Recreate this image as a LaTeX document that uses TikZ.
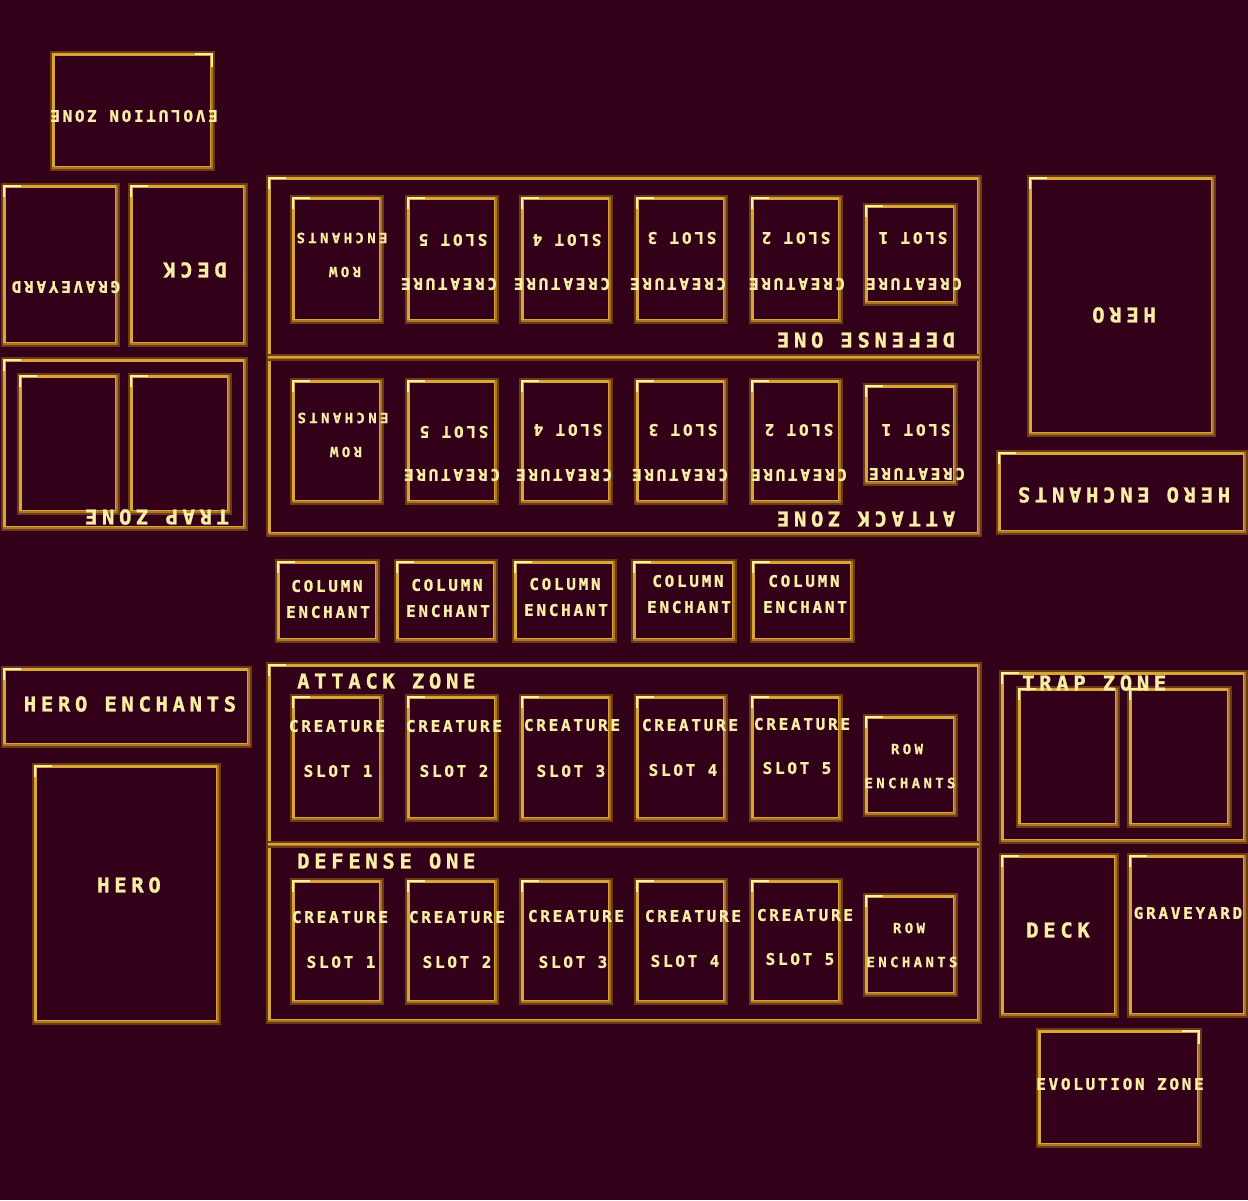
\documentclass[tikz,border=0pt]{standalone}
\usepackage{fontspec}
\newfontfamily\fsmall[LetterSpace=17,FakeBold=1.2]{DejaVu Sans Mono}
\newfontfamily\fbig[LetterSpace=23,FakeBold=1.5]{DejaVu Sans Mono}
\newfontfamily\frow[LetterSpace=24,FakeBold=1]{DejaVu Sans Mono}
\definecolor{cbg}{HTML}{33001A}
\definecolor{cbrown}{HTML}{6B3A17}
\definecolor{cgoldl}{HTML}{D9A535}
\definecolor{cgoldd}{HTML}{AD7222}
\definecolor{chi}{HTML}{FCEFA6}
\definecolor{ctext}{HTML}{F7EDA5}
\newcommand\frm[4]{%
 \fill[cbrown] (#1,#2) rectangle (#3,#4);
 \fill[cgoldd] (#1+2,#2+2) rectangle (#3-2,#4-2);
 \fill[cgoldl] (#1+2,#2+2) rectangle (#3-4,#4-4);
 \fill[cbg] (#1+5,#2+5) rectangle (#3-5,#4-5);
 \fill[chi] (#1+2,#2+2) rectangle (#1+20,#2+4);
 \fill[chi] (#1+2,#2+2) rectangle (#1+4,#2+14);
}
\newcommand\frmr[4]{%
 \fill[cbrown] (#1,#2) rectangle (#3,#4);
 \fill[cgoldd] (#1+2,#2+2) rectangle (#3-2,#4-2);
 \fill[cgoldl] (#1+2,#2+2) rectangle (#3-4,#4-4);
 \fill[cbg] (#1+5,#2+5) rectangle (#3-5,#4-5);
 \fill[chi] (#3-20,#2+2) rectangle (#3-2,#2+4);
 \fill[chi] (#3-4,#2+2) rectangle (#3-2,#2+16);
}
\newcommand\divd[3]{%
 \fill[cbrown] (#1,#3-2) rectangle (#2,#3+5);
 \fill[cgoldl] (#1,#3) rectangle (#2,#3+2);
 \fill[cgoldd] (#1,#3+2) rectangle (#2,#3+3);
}
\begin{document}
\begin{tikzpicture}[x=1pt,y=-1pt,
  sm/.style={text=ctext,inner sep=0pt,font=\fsmall\bfseries\fontsize{16}{16}\selectfont},
  bg/.style={text=ctext,inner sep=0pt,font=\fbig\bfseries\fontsize{20.5}{20.5}\selectfont},
  rw/.style={text=ctext,inner sep=0pt,font=\frow\bfseries\fontsize{14}{14}\selectfont},
  flip/.style={rotate=180}]
\fill[cbg] (0,0) rectangle (1248,1200);
\useasboundingbox (0,0) rectangle (1248,1200);

% ---------- upper (opponent) side, rotated ----------
\frmr{50}{51}{215}{171}
\node[sm,flip] (evoA) at (134,116) {EVOLUTION ZONE};
\frm{1}{183}{120}{347}
\node[sm,flip] (graveA) at (66,287) {GRAVEYARD};
\frm{128}{183}{248}{347}
\node[bg,flip] (deckA) at (195,270) {DECK};
\frm{1}{357}{248}{531}
\frm{17}{373}{120}{515}
\frm{128}{373}{232}{515}
\node[bg,flip] (trapA) at (157,517) {TRAP ZONE};

\frm{266}{175}{982}{537}
\divd{268}{979}{356}
\foreach \x in {290,405,519,634,749} {\frm{\x}{195}{\x+94}{324}}
\frm{863}{203}{958}{306}
\foreach \x in {290,405,519,634,749} {\frm{\x}{378}{\x+94}{505}}
\frm{863}{383}{958}{486}

\node[rw,flip] (dRowA) at (342,238) {ENCHANTS};
\node[rw,flip] (dRowB) at (345,272) {ROW};
\node[sm,flip] (dS5) at (453,240) {SLOT 5};
\node[sm,flip] (dC5) at (449,284) {CREATURE};
\node[sm,flip] (dS4) at (567,240) {SLOT 4};
\node[sm,flip] (dC4) at (562,284) {CREATURE};
\node[sm,flip] (dS3) at (682,238) {SLOT 3};
\node[sm,flip] (dC3) at (678,284) {CREATURE};
\node[sm,flip] (dS2) at (796,238) {SLOT 2};
\node[sm,flip] (dC2) at (797,284) {CREATURE};
\node[sm,flip] (dS1) at (913,238) {SLOT 1};
\node[sm,flip] (dC1) at (914,284) {CREATURE};
\node[bg,flip] (defA) at (866,340) {DEFENSE ONE};

\node[rw,flip] (aRowA) at (343,418) {ENCHANTS};
\node[rw,flip] (aRowB) at (346,452) {ROW};
\node[sm,flip] (aS5) at (454,432) {SLOT 5};
\node[sm,flip] (aC5) at (452,475) {CREATURE};
\node[sm,flip] (aS4) at (568,430) {SLOT 4};
\node[sm,flip] (aC4) at (564,475) {CREATURE};
\node[sm,flip] (aS3) at (683,430) {SLOT 3};
\node[sm,flip] (aC3) at (680,475) {CREATURE};
\node[sm,flip] (aS2) at (799,430) {SLOT 2};
\node[sm,flip] (aC2) at (799,475) {CREATURE};
\node[sm,flip] (aS1) at (916,430) {SLOT 1};
\node[sm,flip] (aC1) at (917,474) {CREATURE};
\node[bg,flip] (attA) at (866,519) {ATTACK ZONE};

\frm{1027}{175}{1216}{437}
\node[bg,flip] (heroA) at (1124,315) {HERO};
\frm{996}{450}{1248}{535}
\node[bg,flip] (heA) at (1124,495) {HERO ENCHANTS};

% ---------- column enchants ----------
\frm{275}{559}{380}{643}
\frm{394}{559}{498}{643}
\frm{512}{559}{617}{643}
\frm{631}{559}{737}{643}
\frm{750}{559}{855}{643}
\node[sm] (c1a) at (327,586) {COLUMN};
\node[sm] (c1b) at (328,612) {ENCHANT};
\node[sm] (c2a) at (447,585) {COLUMN};
\node[sm] (c2b) at (448,611) {ENCHANT};
\node[sm] (c3a) at (565,584) {COLUMN};
\node[sm] (c3b) at (566,610) {ENCHANT};
\node[sm] (c4a) at (688,581) {COLUMN};
\node[sm] (c4b) at (689,607) {ENCHANT};
\node[sm] (c5a) at (804,581) {COLUMN};
\node[sm] (c5b) at (805,607) {ENCHANT};

% ---------- lower (player) side ----------
\frm{1}{666}{252}{748}
\node[bg] (heB) at (130,704) {HERO ENCHANTS};
\frm{32}{763}{221}{1025}
\node[bg] (heroB) at (129,885) {HERO};

\frm{266}{662}{982}{1024}
\divd{268}{979}{843}
\node[bg,anchor=west] (attB) at (297,681) {ATTACK ZONE};
\node[bg,anchor=west] (defB) at (297,861) {DEFENSE ONE};

\foreach \x in {290,405,519,634,749} {\frm{\x}{694}{\x+94}{822}}
\frm{863}{714}{958}{817}
\foreach \x in {290,405,519,634,749} {\frm{\x}{878}{\x+94}{1005}}
\frm{863}{893}{958}{997}

\node[sm] (bC1) at (337,726) {CREATURE};
\node[sm] (bS1) at (338,771) {SLOT 1};
\node[sm] (bC2) at (454,726) {CREATURE};
\node[sm] (bS2) at (454,771) {SLOT 2};
\node[sm] (bC3) at (572,725) {CREATURE};
\node[sm] (bS3) at (571,771) {SLOT 3};
\node[sm] (bC4) at (690,725) {CREATURE};
\node[sm] (bS4) at (683,770) {SLOT 4};
\node[sm] (bC5) at (802,724) {CREATURE};
\node[sm] (bS5) at (797,768) {SLOT 5};
\node[rw] (bRowA) at (907,749) {ROW};
\node[rw] (bRowB) at (910,783) {ENCHANTS};

\node[sm] (eC1) at (340,917) {CREATURE};
\node[sm] (eS1) at (341,962) {SLOT 1};
\node[sm] (eC2) at (457,917) {CREATURE};
\node[sm] (eS2) at (457,962) {SLOT 2};
\node[sm] (eC3) at (576,916) {CREATURE};
\node[sm] (eS3) at (573,962) {SLOT 3};
\node[sm] (eC4) at (693,916) {CREATURE};
\node[sm] (eS4) at (685,961) {SLOT 4};
\node[sm] (eC5) at (805,915) {CREATURE};
\node[sm] (eS5) at (800,959) {SLOT 5};
\node[rw] (eRowA) at (909,928) {ROW};
\node[rw] (eRowB) at (912,962) {ENCHANTS};

\frm{999}{670}{1248}{844}
\frm{1016}{686}{1120}{828}
\frm{1127}{686}{1232}{828}
\node[bg,anchor=west] (trapB) at (1022,683) {TRAP ZONE};
\frm{999}{853}{1119}{1018}
\node[bg] (deckB) at (1058,930) {DECK};
\frm{1127}{853}{1248}{1018}
\node[sm] (graveB) at (1188,913) {GRAVEYARD};
\frmr{1036}{1028}{1202}{1148}
\node[sm] (evoB) at (1120,1084) {EVOLUTION ZONE};
\end{tikzpicture}
\end{document}
